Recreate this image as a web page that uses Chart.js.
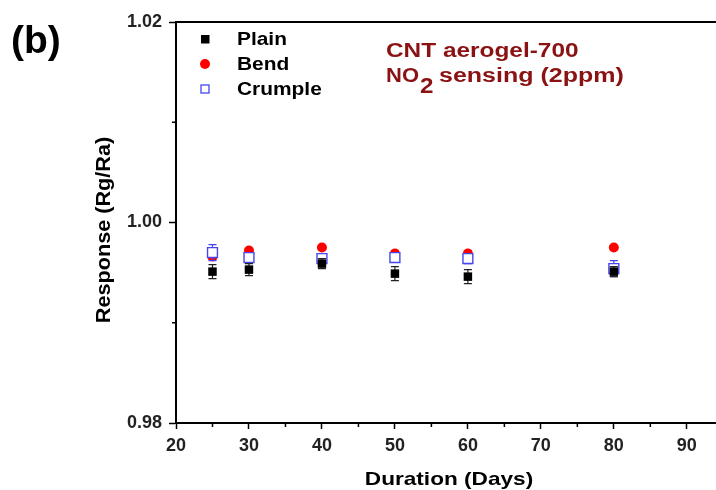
<!DOCTYPE html>
<html>
<head>
<meta charset="utf-8">
<script src="https://cdn.jsdelivr.net/npm/chart.js@4"></script>
<style>
  html, body { margin: 0; padding: 0; background: #fff; }
  #wrap { width: 716px; height: 490px; }
</style>
</head>
<body>
<div id="wrap"><canvas id="chart" width="716" height="490"></canvas></div>
<script>
const days       = [25, 30, 40, 50, 60, 80];
const plain      = [0.9951, 0.9953, 0.9959, 0.9949, 0.9946, 0.9951];
const plainErr   = [0.0007, 0.0006, 0.0005, 0.0007, 0.0007, 0.0005];
const bend       = [0.9966, 0.9972, 0.9975, 0.9969, 0.9969, 0.9975];
const bendErr    = [0.0003, 0.0002, 0.0002, 0.0003, 0.0003, 0.0002];
const crumple    = [0.9970, 0.9965, 0.9964, 0.9965, 0.9964, 0.9954];
const crumpleErr = [0.0008, 0.0004, 0.0004, 0.0004, 0.0005, 0.0008];

const xTicks = [20, 30, 40, 50, 60, 70, 80, 90];
const xMinor = [25, 35, 45, 55, 65, 75, 85];
const yTicks = [0.98, 1.00, 1.02];
const yMinor = [0.99, 1.01];

const BLUE = '#4646f0';
const RED  = '#ff0000';
const DARKRED = '#8b1212';
const FONT = 'Arial, "Liberation Sans", sans-serif';

function pts(ys) {
  return days.map((d, i) => ({ x: d, y: ys[i] }));
}

const errors = [plainErr, bendErr, crumpleErr];

// draws text stretched horizontally (source figure is stretched)
function wideText(ctx, text, x, y, sx) {
  ctx.save();
  ctx.translate(x, y);
  ctx.scale(sx, 1);
  ctx.fillText(text, 0, 0);
  ctx.restore();
}

const errorBars = {
  id: 'errorBars',
  beforeDatasetDraw(chart, args) {
    const ctx = chart.ctx;
    const ds = chart.data.datasets[args.index];
    const err = errors[args.index];
    const ys = chart.scales.y;
    ctx.save();
    ctx.strokeStyle = ds.errColor;
    ctx.lineWidth = 1.2;
    args.meta.data.forEach((p, i) => {
      const v = ds.data[i].y;
      const top = ys.getPixelForValue(v + err[i]);
      const bot = ys.getPixelForValue(v - err[i]);
      ctx.beginPath();
      ctx.moveTo(p.x, top); ctx.lineTo(p.x, bot);
      ctx.moveTo(p.x - 4, top); ctx.lineTo(p.x + 4, top);
      ctx.moveTo(p.x - 4, bot); ctx.lineTo(p.x + 4, bot);
      ctx.stroke();
    });
    ctx.restore();
  }
};

const decorations = {
  id: 'decorations',
  afterDraw(chart) {
    const ctx = chart.ctx;
    const a = chart.chartArea;
    const xs = chart.scales.x, ys = chart.scales.y;
    ctx.save();
    // top spine
    ctx.strokeStyle = '#000';
    ctx.lineWidth = 2;
    ctx.beginPath();
    ctx.moveTo(a.left - 1, a.top);
    ctx.lineTo(chart.width, a.top);
    ctx.stroke();

    // minor ticks
    ctx.lineWidth = 1.5;
    ctx.beginPath();
    xMinor.forEach(v => {
      const px = xs.getPixelForValue(v);
      ctx.moveTo(px, a.bottom); ctx.lineTo(px, a.bottom + 4);
    });
    yMinor.forEach(v => {
      const py = ys.getPixelForValue(v);
      ctx.moveTo(a.left, py); ctx.lineTo(a.left - 4, py);
    });
    ctx.stroke();

    // panel label
    ctx.fillStyle = '#000';
    ctx.textBaseline = 'alphabetic';
    ctx.textAlign = 'left';
    ctx.font = 'bold 39px ' + FONT;
    ctx.fillText('(b)', 11, 53);

    // axis titles
    ctx.font = 'bold 19px ' + FONT;
    ctx.textAlign = 'center';
    wideText(ctx, 'Duration (Days)', 449, 485, 1.19);
    ctx.save();
    ctx.translate(110, 230);
    ctx.rotate(-Math.PI / 2);
    ctx.font = 'bold 21px ' + FONT;
    wideText(ctx, 'Response (Rg/Ra)', 0, 0, 1.03);
    ctx.restore();

    // legend
    ctx.textAlign = 'left';
    ctx.font = 'bold 19px ' + FONT;
    chart.data.datasets.forEach((ds, i) => {
      const base = 45 + i * 25;
      const my = base - 6;
      if (i === 0) {
        ctx.fillStyle = '#000';
        ctx.fillRect(201, my - 4, 8.5, 8.5);
      } else if (i === 1) {
        ctx.fillStyle = RED;
        ctx.beginPath();
        ctx.arc(205, my, 5, 0, Math.PI * 2);
        ctx.fill();
      } else {
        ctx.strokeStyle = BLUE;
        ctx.lineWidth = 1.3;
        ctx.strokeRect(201, my - 4, 8, 8);
      }
      ctx.fillStyle = '#000';
      wideText(ctx, ds.label, 237, base, 1.1);
    });

    // annotation
    ctx.fillStyle = DARKRED;
    ctx.font = 'bold 20px ' + FONT;
    wideText(ctx, 'CNT aerogel-700', 386, 57, 1.22);
    wideText(ctx, 'NO', 386, 82, 1.1);
    ctx.font = 'bold 22px ' + FONT;
    wideText(ctx, '2', 420, 93, 1.1);
    ctx.font = 'bold 20px ' + FONT;
    wideText(ctx, 'sensing (2ppm)', 439, 82, 1.25);
    ctx.restore();
  }
};

new Chart(document.getElementById('chart'), {
  type: 'scatter',
  data: {
    datasets: [
      {
        label: 'Plain', data: pts(plain), order: 1,
        pointStyle: 'rect', pointRadius: 6, pointHoverRadius: 6,
        backgroundColor: '#000', borderColor: '#000', borderWidth: 0,
        errColor: '#222'
      },
      {
        label: 'Bend', data: pts(bend), order: 3,
        pointStyle: 'circle', pointRadius: 5, pointHoverRadius: 5,
        backgroundColor: RED, borderColor: RED, borderWidth: 0,
        errColor: RED
      },
      {
        label: 'Crumple', data: pts(crumple), order: 2,
        pointStyle: 'rect', pointRadius: 7, pointHoverRadius: 7,
        backgroundColor: '#fff', borderColor: BLUE, borderWidth: 1.4,
        errColor: BLUE
      }
    ]
  },
  options: {
    responsive: false,
    animation: false,
    events: [],
    layout: { autoPadding: false, padding: { left: 0, top: 22, right: 0, bottom: 0 } },
    plugins: { legend: { display: false }, tooltip: { enabled: false } },
    scales: {
      x: {
        type: 'linear', min: 20, max: 94,
        afterBuildTicks(scale) {
          scale.ticks = xTicks.map(v => ({ value: v }));
        },
        afterFit(scale) {
          scale.height = 67;
          scale.paddingLeft = 0;
          scale.paddingRight = 0;
        },
        grid: { drawOnChartArea: false, drawTicks: true, tickLength: 6, color: '#000', tickWidth: 1.5 },
        border: { display: true, color: '#000', width: 2 },
        ticks: {
          padding: 6, color: '#222', maxRotation: 0, autoSkip: false,
          font: { family: FONT, size: 18, weight: 'bold' },
          callback: v => String(v)
        }
      },
      y: {
        type: 'linear', min: 0.98, max: 1.02,
        afterBuildTicks(scale) {
          scale.ticks = yTicks.map(v => ({ value: v }));
        },
        afterFit(scale) {
          scale.width = 176;
          scale.paddingTop = 0;
          scale.paddingBottom = 0;
        },
        grid: { drawOnChartArea: false, drawTicks: true, tickLength: 7, color: '#000', tickWidth: 1.5 },
        border: { display: true, color: '#000', width: 2 },
        ticks: {
          padding: 7, color: '#222', autoSkip: false,
          font: { family: FONT, size: 18, weight: 'bold' },
          callback: v => v.toFixed(2)
        }
      }
    }
  },
  plugins: [errorBars, decorations]
});
</script>
</body>
</html>
